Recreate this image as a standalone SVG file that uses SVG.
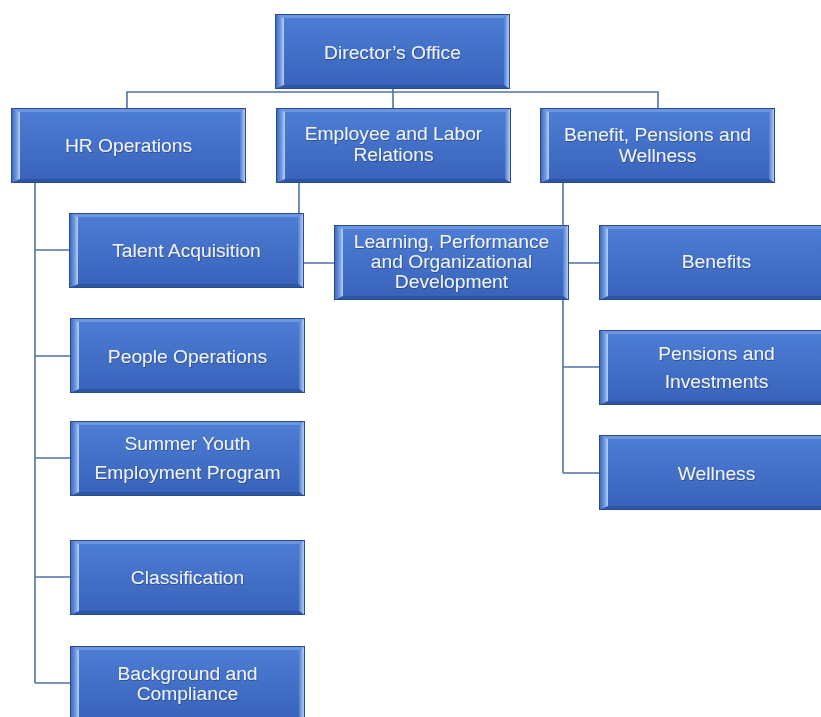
<svg xmlns="http://www.w3.org/2000/svg" xmlns:xlink="http://www.w3.org/1999/xlink" width="821" height="717" viewBox="0 0 821 717">
<defs>
<style>
.c{fill:none;stroke:#4f72aa;stroke-width:1.6}
.t{font-family:"Liberation Sans",Arial,sans-serif;font-size:17.5px;fill:#eef3fb;text-anchor:middle;filter:url(#ts)}
</style>
<linearGradient id="face" x1="0" y1="0" x2="0" y2="1">
<stop offset="0" stop-color="#4e7ed5"/>
<stop offset="1" stop-color="#3862ba"/>
</linearGradient>
<linearGradient id="lb" x1="0" y1="0" x2="1" y2="0">
<stop offset="0" stop-color="#3560b6"/>
<stop offset="0.6" stop-color="#6f98e0"/>
<stop offset="1" stop-color="#b9d0f4"/>
</linearGradient>
<linearGradient id="rb" x1="0" y1="0" x2="1" y2="0">
<stop offset="0" stop-color="#4f7fd4"/>
<stop offset="1" stop-color="#c6daf8"/>
</linearGradient>
<filter id="ts" x="-10%" y="-30%" width="120%" height="160%">
<feDropShadow dx="0.6" dy="0.9" stdDeviation="0.5" flood-color="#1b3263" flood-opacity="0.6"/>
</filter>
<g id="bx">
<rect x="0" y="0" width="235" height="75" fill="url(#face)"/>
<polygon points="0,0 235,0 229,4 9,4" fill="#6d96e0"/>
<polygon points="0,75 9,71 229,71 235,75" fill="#2d55a5"/>
<polygon points="0,0 9,4 9,71 0,75" fill="url(#lb)"/>
<polygon points="235,0 229,4 229,71 235,75" fill="url(#rb)"/>
<rect x="0.5" y="0.5" width="234" height="74" fill="none" stroke="#2b4c8c" stroke-width="1"/>
</g>
</defs>
<rect width="821" height="717" fill="#ffffff"/>
<g id="connectors">
<path class="c" d="M127,108 V92 H658 V108"/>
<path class="c" d="M393,89 V108"/>
<path class="c" d="M35,183 V683"/>
<path class="c" d="M35,250 H70 M35,356 H70 M35,458 H70 M35,577 H70 M35,683 H70"/>
<path class="c" d="M299,183 V263 H334"/>
<path class="c" d="M563,183 V473"/>
<path class="c" d="M563,263 H599 M563,367 H599 M563,473 H599"/>
</g>
<g id="directors-office"><use href="#bx" x="275" y="14"/><text class="t" transform="translate(392.5,58.5) scale(1.1,1)">Director’s Office</text></g>
<g id="hr-operations"><use href="#bx" x="11" y="108"/><text class="t" transform="translate(128.5,151.5) scale(1.1,1)">HR Operations</text></g>
<g id="employee-labor"><use href="#bx" x="276" y="108"/><text class="t" transform="translate(393.5,139.5) scale(1.1,1)">Employee and Labor</text><text class="t" transform="translate(393.5,160.5) scale(1.1,1)">Relations</text></g>
<g id="benefit-pensions-wellness"><use href="#bx" x="540" y="108"/><text class="t" transform="translate(657.5,140.5) scale(1.1,1)">Benefit, Pensions and</text><text class="t" transform="translate(657.5,161.5) scale(1.1,1)">Wellness</text></g>
<g id="talent-acquisition"><use href="#bx" x="69" y="213"/><text class="t" transform="translate(186.5,256.5) scale(1.1,1)">Talent Acquisition</text></g>
<g id="learning"><use href="#bx" x="334" y="225"/><text class="t" transform="translate(451.5,248) scale(1.1,1)">Learning, Performance</text><text class="t" transform="translate(451.5,268) scale(1.1,1)">and Organizational</text><text class="t" transform="translate(451.5,288) scale(1.1,1)">Development</text></g>
<g id="benefits"><use href="#bx" x="599" y="225"/><text class="t" transform="translate(716.5,267.5) scale(1.1,1)">Benefits</text></g>
<g id="people-operations"><use href="#bx" x="70" y="318"/><text class="t" transform="translate(187.5,362.5) scale(1.1,1)">People Operations</text></g>
<g id="summer-youth"><use href="#bx" x="70" y="421"/><text class="t" transform="translate(187.5,449.5) scale(1.1,1)">Summer Youth</text><text class="t" transform="translate(187.5,478.5) scale(1.1,1)">Employment Program</text></g>
<g id="classification"><use href="#bx" x="70" y="540"/><text class="t" transform="translate(187.5,583.5) scale(1.1,1)">Classification</text></g>
<g id="background-compliance"><use href="#bx" x="70" y="646"/><text class="t" transform="translate(187.5,679.5) scale(1.1,1)">Background and</text><text class="t" transform="translate(187.5,699.5) scale(1.1,1)">Compliance</text></g>
<g id="pensions-investments"><use href="#bx" x="599" y="330"/><text class="t" transform="translate(716.5,359.5) scale(1.1,1)">Pensions and</text><text class="t" transform="translate(716.5,387.5) scale(1.1,1)">Investments</text></g>
<g id="wellness"><use href="#bx" x="599" y="435"/><text class="t" transform="translate(716.5,479.5) scale(1.1,1)">Wellness</text></g>
</svg>
